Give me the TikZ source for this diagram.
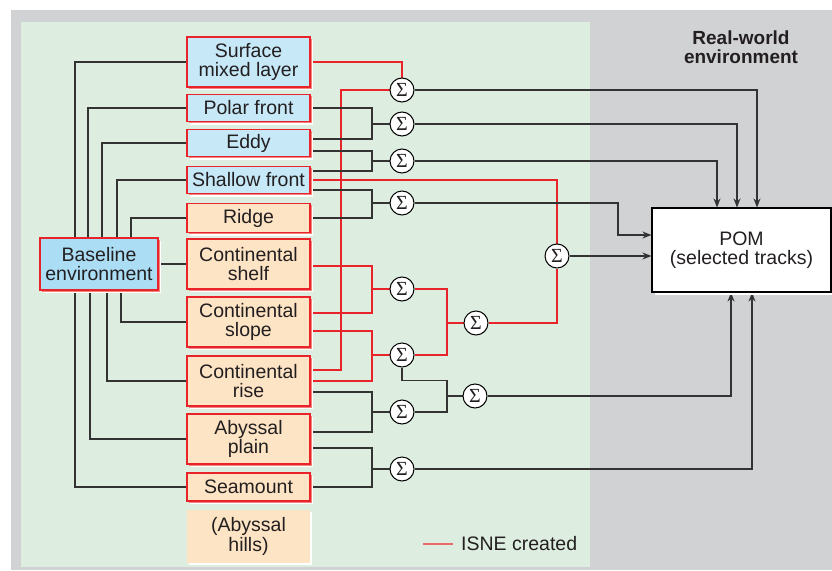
\documentclass[tikz,border=0pt]{standalone}
\usepackage{fontspec}
\setmainfont{Liberation Sans}
\newfontfamily\sigfont{Liberation Serif}
\usetikzlibrary{arrows.meta,shadows,calc}
\definecolor{bggray}{HTML}{D1D2D4}
\definecolor{bggreen}{HTML}{DDEDDF}
\definecolor{bluebox}{HTML}{C6E8F7}
\definecolor{basebox}{HTML}{ABDDF5}
\definecolor{orbox}{HTML}{FDE4C4}
\definecolor{isred}{HTML}{E8232A}
\definecolor{shred}{HTML}{F3857F}
\definecolor{wire}{HTML}{333333}
\definecolor{txt}{HTML}{231F20}
\definecolor{legred}{HTML}{E86A6A}
\pgfdeclarelayer{bg}
\pgfdeclarelayer{wires}
\pgfsetlayers{bg,wires,main}
\begin{document}
\begin{tikzpicture}[x=1pt,y=-1pt,
  every node/.style={font=\fontsize{19.5}{19.5}\selectfont, text=txt},
  envbox/.style={draw=isred, line width=1.1pt, align=center, inner sep=0pt,
    minimum width=123pt,
    drop shadow={shadow xshift=3pt, shadow yshift=-3pt, fill=white, opacity=1},
    drop shadow={shadow xshift=1.8pt, shadow yshift=-1.8pt, fill=shred, opacity=1}},
  hillbox/.style={fill=orbox, align=center, inner sep=0pt, minimum width=123pt,
    drop shadow={shadow xshift=2pt, shadow yshift=-2pt, fill=white, opacity=1}},
  pombox/.style={draw=black, fill=white, line width=1.1pt, align=center, inner sep=0pt,
    minimum width=179pt, minimum height=84pt,
    drop shadow={shadow xshift=2.5pt, shadow yshift=-2.5pt, fill=white, opacity=1}},
  sig/.style={circle, draw=black, fill=white, line width=1pt, minimum size=24pt, inner sep=0pt,
    font=\sigfont\fontsize{20}{20}\selectfont},
  conn/.style={draw=wire, line width=1.25pt},
  rconn/.style={draw=isred, line width=1.25pt},
  arr/.style={-{Stealth[length=9pt,width=7pt]}}
]
\useasboundingbox (0,0) rectangle (832,570);

% nodes
\node[envbox, fill=bluebox, minimum height=50pt] (sml) at (248.5,62) {Surface\\mixed layer};
\node[envbox, fill=bluebox, minimum height=27pt] (polar) at (248.5,108) {Polar front};
\node[envbox, fill=bluebox, minimum height=27pt] (eddy) at (248.5,143) {Eddy};
\node[envbox, fill=bluebox, minimum height=27pt] (shallow) at (248.5,180) {Shallow front};
\node[envbox, fill=orbox, minimum height=29pt] (ridge) at (248.5,218) {Ridge};
\node[envbox, fill=orbox, minimum height=50pt] (shelf) at (248.5,264) {Continental\\shelf};
\node[envbox, fill=orbox, minimum height=50pt] (slope) at (248.5,322) {Continental\\slope};
\node[envbox, fill=orbox, minimum height=50pt] (rise) at (248.5,381) {Continental\\rise};
\node[envbox, fill=orbox, minimum height=50pt] (plain) at (248.5,439) {Abyssal\\plain};
\node[envbox, fill=orbox, minimum height=28pt] (seamount) at (248.5,487) {Seamount};
\node[hillbox, minimum height=53pt] (hills) at (248.5,536.5) {(Abyssal\\hills)};
\node[envbox, fill=basebox, minimum width=118pt, minimum height=52pt] (base) at (99,264) {Baseline\\environment};
\node[pombox] (pom) at (741.5,250) {POM\\(selected tracks)};
\node[align=center, font=\fontsize{19}{19.3}\selectfont\bfseries] (rw) at (741,47) {Real-world\\environment};

\node[sig] (s1) at (402,90) {Σ};
\node[sig] (s2) at (402,124) {Σ};
\node[sig] (s3) at (402,161) {Σ};
\node[sig] (s4) at (402,203) {Σ};
\node[sig] (s5) at (402,289) {Σ};
\node[sig] (s6) at (402,355) {Σ};
\node[sig] (s7) at (402,412) {Σ};
\node[sig] (s8) at (402,469) {Σ};
\node[sig] (sc) at (476,323) {Σ};
\node[sig] (sd) at (475,396) {Σ};
\node[sig] (sm) at (557,256) {Σ};

\coordinate (lg1) at (423,544);
\node[anchor=west, inner sep=0pt] (lgt) at (461,544) {ISNE created};

% x positions for vertical runs
\coordinate (vA) at (75,0);
\coordinate (vB) at (88,0);
\coordinate (vC) at (102,0);
\coordinate (vD) at (117,0);
\coordinate (vE) at (131,0);
\coordinate (vF) at (121,0);
\coordinate (vG) at (107,0);
\coordinate (vH) at (90,0);
\coordinate (bx) at (372,0);
\coordinate (rx) at (341,0);
\coordinate (mx) at (447,0);
\coordinate (a1) at (757,0);
\coordinate (a2) at (737,0);
\coordinate (a3) at (717,0);
\coordinate (a4) at (618,0);
\coordinate (a5) at (731,0);
\coordinate (a6) at (752,0);

\begin{pgfonlayer}{bg}
  \fill[bggray] (11,10) rectangle (832,570);
  \fill[bggreen] (21,22) rectangle (590,567);
\end{pgfonlayer}

\begin{pgfonlayer}{wires}
  % baseline to boxes
  \draw[conn] (sml.west) -| (base.north -| vA);
  \draw[conn] (polar.west) -| (base.north -| vB);
  \draw[conn] (eddy.west) -| (base.north -| vC);
  \draw[conn] (shallow.west) -| (base.north -| vD);
  \draw[conn] (ridge.west) -| (base.north -| vE);
  \draw[conn] (base.east) -- (shelf.west);
  \draw[conn] (slope.west) -| (base.south -| vF);
  \draw[conn] (rise.west) -| (base.south -| vG);
  \draw[conn] (plain.west) -| (base.south -| vH);
  \draw[conn] (seamount.west) -| (base.south -| vA);

  % sigma 1
  \draw[rconn] (sml.east) -| (s1.north);
  \draw[rconn] ([yshift=11pt]rise.east) -| (s1.west -| rx) -- (s1.west);
  \draw[conn, arr] (s1.east) -| (pom.north -| a1);
  % sigma 2
  \draw[conn] (polar.east) -| (s2.west -| bx) -- (s2.west);
  \draw[conn] ([yshift=4pt]eddy.east) -| (s2.west -| bx);
  \draw[conn, arr] (s2.east) -| (pom.north -| a2);
  % sigma 3
  \draw[conn] ([yshift=-8pt]eddy.east) -| (s3.west -| bx) -- (s3.west);
  \draw[conn] ([yshift=9pt]shallow.east) -| (s3.west -| bx);
  \draw[conn, arr] (s3.east) -| (pom.north -| a3);
  % shallow front red
  \draw[rconn] (shallow.east) -| (sm.north);
  % sigma 4
  \draw[conn] ([yshift=-10pt]shallow.east) -| (s4.west -| bx) -- (s4.west);
  \draw[conn] (ridge.east) -| (s4.west -| bx);
  \draw[conn, arr] (s4.east) -| ([yshift=15pt]pom.west -| a4) -- ([yshift=15pt]pom.west);
  % sigma mid
  \draw[conn, arr] (sm.east) -- (sm.east -| pom.west);
  % sigma 5
  \draw[rconn] ([yshift=-2pt]shelf.east) -| (s5.west -| bx) -- (s5.west);
  \draw[rconn] ([yshift=9pt]slope.east) -| (s5.west -| bx);
  \draw[rconn] (s5.east) -| (sc.west -| mx) -- (sc.west);
  % sigma 6
  \draw[rconn] ([yshift=-9pt]slope.east) -| (s6.west -| bx) -- (s6.west);
  \draw[rconn] (rise.east) -| (s6.west -| bx);
  \draw[rconn] (s6.east) -| (sc.west -| mx);
  \draw[rconn] (sc.east) -| (sm.south);
  \draw[conn] (s6.south) -- ++(0,13) -| (sd.west -| mx) -- (sd.west);
  % sigma 7
  \draw[conn] ([yshift=-11pt]rise.east) -| (s7.west -| bx) -- (s7.west);
  \draw[conn] ([yshift=7pt]plain.east) -| (s7.west -| bx);
  \draw[conn] (s7.east) -| (sd.west -| mx);
  \draw[conn, arr] (sd.east) -| (pom.south -| a5);
  % sigma 8
  \draw[conn] ([yshift=-9pt]plain.east) -| (s8.west -| bx) -- (s8.west);
  \draw[conn] (seamount.east) -| (s8.west -| bx);
  \draw[conn, arr] (s8.east) -| (pom.south -| a6);

  % legend
  \draw[draw=legred, line width=1.3pt] (lg1) -- ([xshift=-8pt]lgt.west);
\end{pgfonlayer}
\end{tikzpicture}
\end{document}
